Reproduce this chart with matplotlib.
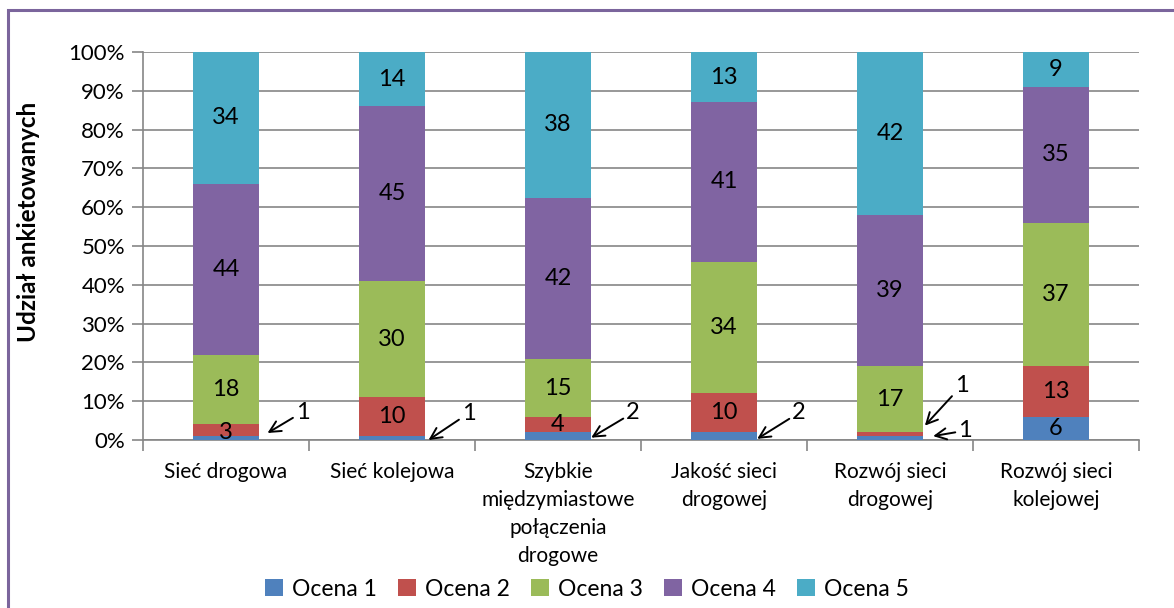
import matplotlib
matplotlib.use("Agg")
import matplotlib.pyplot as plt
import numpy as np
from matplotlib.patches import Rectangle

plt.rcParams['font.family'] = ['Lato', 'DejaVu Sans']

categories = ["Sieć drogowa", "Sieć kolejowa",
              "Szybkie\nmiędzymiastowe\npołączenia\ndrogowe",
              "Jakość sieci\ndrogowej", "Rozwój sieci\ndrogowej",
              "Rozwój sieci\nkolejowej"]
series_names = ["Ocena 1", "Ocena 2", "Ocena 3", "Ocena 4", "Ocena 5"]
ocena1 = [1, 1, 2, 2, 1, 6]
ocena2 = [3, 10, 4, 10, 1, 13]
ocena3 = [18, 30, 15, 34, 17, 37]
ocena4 = [44, 45, 42, 41, 39, 35]
ocena5 = [34, 14, 38, 13, 42, 9]
colors = ["#4F81BD", "#C0504D", "#9BBB59", "#8064A2", "#4BACC6"]
yticks = [0, 10, 20, 30, 40, 50, 60, 70, 80, 90, 100]

data = np.array([ocena1, ocena2, ocena3, ocena4, ocena5], dtype=float)
totals = data.sum(axis=0)
share = data / totals * 100

LBL = 17

fig = plt.figure(figsize=(11.74, 6.08), dpi=100)
ax = fig.add_axes([143/1174, 1-440/608, (1139-143)/1174, (440-52)/608])

x = np.arange(len(categories))
bottom = np.zeros(len(categories))
bars = []
for i in range(5):
    b = ax.bar(x, share[i], 0.4, bottom=bottom, color=colors[i],
               label=series_names[i], zorder=3)
    bars.append(b)
    for j in range(len(categories)):
        v = data[i, j]
        cy = bottom[j] + share[i, j] / 2
        if share[i, j] >= 3.5:
            ax.text(x[j], cy, f"{int(v)}", ha='center', va='center',
                    fontsize=LBL, zorder=5)
    bottom += share[i]

# small labels with arrows
def arrow_label(txt, xy, xytext):
    ax.annotate(txt, xy=xy, xytext=xytext, fontsize=LBL,
                ha='left', va='center', zorder=6,
                arrowprops=dict(arrowstyle='->', color='black', lw=1.4,
                                shrinkA=0, shrinkB=0,
                                mutation_scale=20),
                annotation_clip=False)

# Sieć drogowa: '3' inside small red segment
ax.text(x[0], share[0, 0] + share[1, 0] / 2 - 0.5, "3", ha='center',
        va='center', fontsize=LBL, zorder=5)
arrow_label("1", (x[0] + 0.25, 1.8), (x[0] + 0.42, 7.2))
arrow_label("1", (x[1] + 0.22, 0.0), (x[1] + 0.42, 6.9))
arrow_label("2", (x[2] + 0.2, 0.6), (x[2] + 0.41, 7.0))
arrow_label("2", (x[3] + 0.2, 0.3), (x[3] + 0.41, 7.0))
arrow_label("1", (x[4] + 0.21, 3.7), (x[4] + 0.39, 14.0))
arrow_label("1", (x[4] + 0.26, 1.0), (x[4] + 0.41, 2.4))

ax.set_xlim(-0.5, len(categories) - 0.5)
ax.set_ylim(0, 100)
ax.set_yticks(yticks)
ax.set_yticklabels([f"{t}%" for t in yticks], fontsize=16)
ax.yaxis.grid(True, color='#868686', lw=1.2, zorder=0)
ax.set_xticks(x)
ax.set_xticklabels(categories, fontsize=15, linespacing=1.5)
ax.tick_params(axis='x', which='major', length=0, pad=16)
ax.set_xticks(np.arange(-0.5, len(categories), 1.0), minor=True)
ax.tick_params(axis='x', which='minor', length=8, color='#868686', width=1.2)
ax.tick_params(axis='y', length=8, color='#868686', width=1.2, pad=5)
for s in ['top', 'right']:
    ax.spines[s].set_visible(False)
for s in ['left', 'bottom']:
    ax.spines[s].set_color('#868686')
    ax.spines[s].set_linewidth(1.2)
ax.set_ylabel("Udział ankietowanych", fontsize=17.5, fontweight='bold')
ax.yaxis.set_label_coords(-0.103, 0.562)

handles = [b for b in bars]
fig.legend(handles, series_names, loc='center', bbox_to_anchor=(0.5, 1 - 589/608),
           ncol=5, frameon=False, fontsize=16.5, handlelength=0.8, handleheight=0.8,
           handletextpad=0.4, columnspacing=0.9)

fig.patches.append(Rectangle((8/1174, -0.1), 1.2, 1 - 10/608 + 0.1,
                             transform=fig.transFigure, fill=False,
                             edgecolor='#7B659C', lw=2.2, zorder=10))

fig.savefig("out.png", dpi=100)
